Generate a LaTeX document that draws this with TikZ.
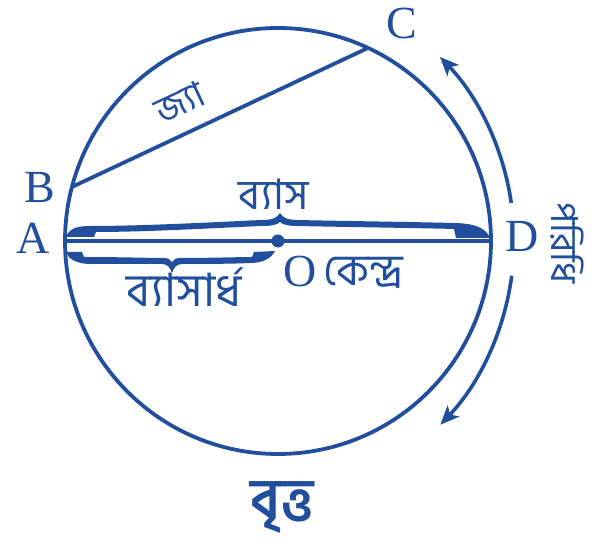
\documentclass[tikz,border=0pt]{standalone}
\usepackage{fontspec}
\setmainfont{Liberation Serif}
\newfontfamily\bn[Script=Bengali]{Hind Siliguri}
\usetikzlibrary{arrows.meta}
\definecolor{dblue}{RGB}{33,79,157}
\begin{document}
\begin{tikzpicture}[x=1pt,y=1pt,
  thk/.style={draw=dblue,line width=3.8pt},
  lat/.style={text=dblue,font=\fontsize{46}{46}\selectfont,inner sep=0pt},
  bng/.style={text=dblue,font=\bn\fontsize{40}{40}\selectfont,inner sep=0pt},
  arr/.style={draw=dblue,line width=3.6pt,-{Stealth[length=19pt,width=16pt,inset=5pt]}}]
\useasboundingbox (0,0) rectangle (603,549);
% centre and circle
\coordinate (O) at (278,308);
\draw[thk] (O) circle[radius=213];
\path (O) ++(180:213) coordinate (Ap);
\path (O) ++(0:213) coordinate (Dp);
\path (O) ++(165.3:213) coordinate (Bp);
\path (O) ++(65:213) coordinate (Cp);
% diameter and chord
\draw[thk] (Ap) -- (Dp);
\draw[thk] (Bp) -- (Cp);
\node[circle,fill=dblue,minimum size=13pt,inner sep=0pt] (dot) at (O) {};
% braces (pixel coordinates, y downwards)
\begin{scope}[shift={(0,549)},yscale=-1]
\fill[dblue] (66,237) .. controls (69,229) and (76,226) .. (90,226)
 .. controls (150,226) and (235,221) .. (262,220)
 .. controls (272,220) and (277,218) .. (280,213)
 .. controls (283,218) and (288,220) .. (298,220)
 .. controls (340,221) and (420,222) .. (452,223)
 .. controls (472,223) and (486,227) .. (490,238)
 -- (456,238) -- (454,229)
 .. controls (420,228) and (340,227) .. (298,226)
 .. controls (289,226) and (283,225) .. (280,222)
 .. controls (277,225) and (271,226) .. (262,226)
 .. controls (235,227) and (150,232) .. (96,232)
 -- (94,237) -- cycle;
\fill[dblue] (66,252) -- (82,252) -- (84,257)
 .. controls (120,257) and (150,258) .. (163,258)
 .. controls (168,258) and (170,259) .. (172,262)
 .. controls (174,259) and (176,258) .. (181,258)
 .. controls (210,258) and (240,257) .. (252,257)
 -- (254,252) -- (275,251)
 .. controls (271,259) and (262,263) .. (250,263)
 .. controls (230,264) and (195,264) .. (182,264)
 .. controls (177,264) and (174,267) .. (172,273)
 .. controls (170,267) and (167,264) .. (162,264)
 .. controls (130,264) and (100,264) .. (88,264)
 .. controls (76,263) and (68,259) .. (66,252) -- cycle;
\end{scope}
% circumference arrows
\coordinate (AC) at (248,308);
\path (AC) ++(8.2:266) coordinate (u0);
\path (AC) ++(-7.5:266) coordinate (l0);
\draw[arr] (u0) arc[start angle=8.2,end angle=43.8,radius=266];
\draw[arr] (l0) arc[start angle=-7.5,end angle=-43.7,radius=266];
% letters
\node[lat] (A) at (33.5,310.5) {A};
\node[lat] (B) at (40,361.5) {B};
\node[lat] (C) at (401.5,525.5) {C};
\node[lat] (D) at (522.5,313) {D};
\node[lat] (Ol) at (300,277) {O};
% Bengali labels
\node[bng,font=\bn\fontsize{44}{44}\selectfont] (kendra) at (363.5,276) {কেন্দ্র};
\node[bng,font=\bn\fontsize{42}{42}\selectfont] (byas) at (274,355) {ব্যাস};
\node[bng,font=\bn\fontsize{46}{46}\selectfont] (byasardha) at (184,262) {ব্যাসার্ধ};
\node[bng,font=\bn\fontsize{36}{36}\selectfont,rotate=25] (jya) at (180,447) {জ্যা};
\node[bng,font=\bn\fontsize{37}{37}\selectfont,rotate=-90] (paridhi) at (567,306) {পরিধি};
\node[bng,font=\bn\bfseries\fontsize{56}{56}\selectfont] (britta) at (282,42) {বৃত্ত};
\end{tikzpicture}
\end{document}
